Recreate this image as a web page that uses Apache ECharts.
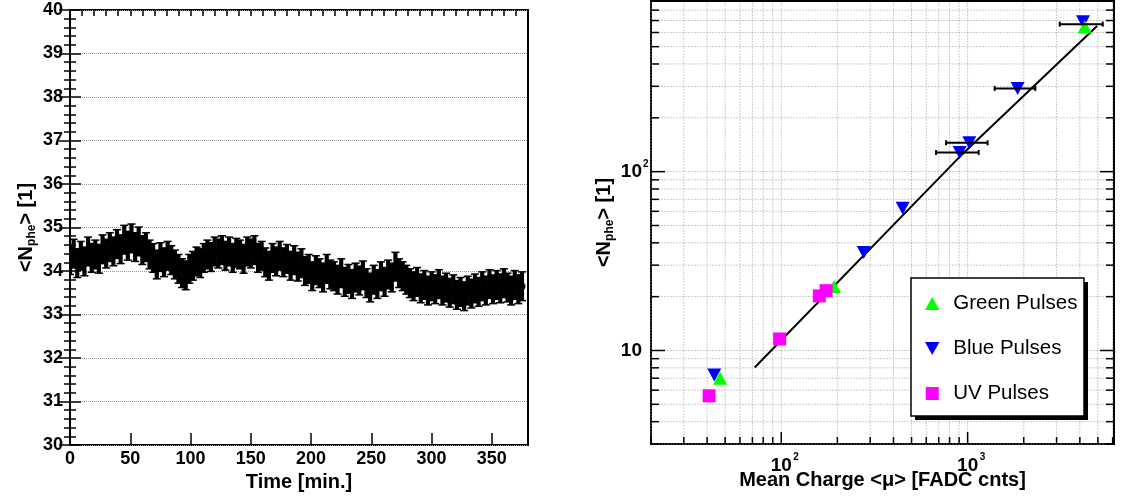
<!DOCTYPE html>
<html><head><meta charset="utf-8">
<script src="https://cdn.jsdelivr.net/npm/echarts@6/dist/echarts.min.js"></script>
<style>html,body{margin:0;padding:0;background:#fff}#c{width:1126px;height:498px}</style>
</head><body><div id="c"></div>
<script>
// ---------- left panel: <Nphe> vs time ----------
const TIME_MIN = [0,3,6,9,12,15,18,21,24,27,30,33,36,39,42,45,48,51,54,57,60,63,66,69,72,75,78,81,84,87,90,93,96,99,102,105,108,111,114,117,120,123,126,129,132,135,138,141,144,147,150,153,156,159,162,165,168,171,174,177,180,183,186,189,192,195,198,201,204,207,210,213,216,219,222,225,228,231,234,237,240,243,246,249,252,255,258,261,264,267,270,273,276,279,282,285,288,291,294,297,300,303,306,309,312,315,318,321,324,327,330,333,336,339,342,345,348,351,354,357,360,363,366,369,372,375];
const NPHE = [
 34.25,34.40,34.18,34.35,34.22,34.45,34.30,34.38,34.28,34.50,
 34.40,34.55,34.45,34.62,34.50,34.72,34.58,34.75,34.55,34.68,
 34.48,34.55,34.38,34.30,34.15,34.32,34.20,34.35,34.25,34.15,
 34.05,33.95,33.90,34.05,34.12,34.22,34.18,34.30,34.38,34.32,
 34.45,34.40,34.48,34.35,34.45,34.30,34.42,34.38,34.28,34.45,
 34.40,34.48,34.30,34.35,34.20,34.12,34.30,34.22,34.35,34.20,
 34.28,34.12,34.25,34.10,34.18,34.00,34.05,33.88,34.02,33.95,
 33.85,34.05,33.92,33.88,33.80,33.95,33.75,33.82,33.70,33.85,
 33.78,33.90,33.72,33.62,33.80,33.70,33.88,33.75,33.92,33.85,
 34.10,33.95,33.88,33.80,33.72,33.65,33.75,33.60,33.68,33.55,
 33.65,33.58,33.70,33.55,33.62,33.50,33.58,33.45,33.52,33.42,
 33.55,33.48,33.60,33.52,33.65,33.55,33.70,33.58,33.68,33.60,
 33.72,33.62,33.55,33.68,33.58,33.65];
const NPHE_ERR = 0.33;

// ---------- right panel: <Nphe> vs mean charge (log-log) ----------
const GREEN = [[47,7.0],[192,22.8],[4250,646]];
const BLUE  = [[43.7,7.3],[277,35.3],[448,62.5],[906,128],[1021,145],[1854,292],[4160,689]];
const UV    = [[41,5.58],[98,11.6],[160,20.2],[174,21.6]];
const FIT   = [[72,8.04],[906,121],[4950,652]];
const XERR  = [[3120,5310,668],[1396,2307,292],[766,1280,145],[677,1146,128]]; // [low, high, y]
const RX_MAJOR = [100,1000];
const RX_MINOR = [20,30,40,50,60,70,80,90,200,300,400,500,600,700,800,900,2000,3000,4000,5000,6000];
const RY_MAJOR = [10,100];
const RY_MINOR = [3,4,5,6,7,8,9,20,30,40,50,60,70,80,90,200,300,400,500,600,700,800];
const RX_LABELS = [['10','2'],['10','3']];
const RY_LABELS = [['10',''],['10','2']];

const FF = '"Liberation Sans", Arial, Helvetica, sans-serif';
const chart = echarts.init(document.getElementById('c'), null, {renderer:'canvas'});

const nameRich = {
  fontFamily: FF, fontWeight: 'bold', fontSize: 20, color: '#000', lineHeight: 24,
  rich: { sub: { fontFamily: FF, fontWeight: 'bold', fontSize: 12, color: '#000', lineHeight: 12, verticalAlign: 'bottom' } }
};
const lblStyle = { fontFamily: FF, fontWeight: 'bold', fontSize: 18, color: '#000' };

const option = {
  animation: false,
  backgroundColor: '#fff',
  grid: [
    { left: 70, top: 10, width: 458, height: 435, show: true, borderColor: '#000', borderWidth: 2, backgroundColor: 'transparent' },
    { left: 651, top: 1, width: 463, height: 443, show: true, borderColor: '#000', borderWidth: 2, backgroundColor: 'transparent' }
  ],
  graphic: [
    { type: 'rect', z: 20, shape: { x: 915, y: 282, width: 173, height: 138 }, style: { fill: '#000' }, silent: true },
    { type: 'rect', z: 21, shape: { x: 911, y: 278, width: 173, height: 138 }, style: { fill: '#fff', stroke: '#000', lineWidth: 1.5 }, silent: true }
  ],
  legend: {
    data: ['Green Pulses','Blue Pulses','UV Pulses'],
    orient: 'vertical', left: 925, top: 293, z: 30,
    itemWidth: 32, itemHeight: 13, itemGap: 24,
    padding: 0,
    selectedMode: false,
    textStyle: { fontFamily: FF, fontSize: 20.5, color: '#000' }
  },
  xAxis: [
    { gridIndex: 0, type: 'value', min: 0, max: 380, interval: 50,
      axisLine: {show:false}, splitLine: {show:false},
      axisTick: {inside:true, length:12, lineStyle:{color:'#000', width:1.5}},
      axisLabel: Object.assign({margin:5, showMaxLabel:false}, lblStyle),
      name: 'Time [min.]', nameLocation: 'middle', nameGap: 25,
      nameTextStyle: {fontFamily: FF, fontWeight:'bold', fontSize:20, color:'#000'} },
    { gridIndex: 0, type: 'value', min: 0, max: 380, interval: 10,
      axisLine: {show:false}, splitLine: {show:false}, axisLabel: {show:false},
      axisTick: {inside:true, length:6, lineStyle:{color:'#000', width:1.5}} },
    { gridIndex: 1, type: 'log', logBase: 10, min: 20, max: 6100,
      axisLine: {show:false}, splitLine: {show:false}, axisLabel: {show:false}, axisTick: {show:false},
      name: 'Mean Charge <μ> [FADC cnts]', nameLocation: 'middle', nameGap: 26,
      nameTextStyle: {fontFamily: FF, fontWeight:'bold', fontSize:20, color:'#000'} }
  ],
  yAxis: [
    { gridIndex: 0, type: 'value', min: 30, max: 40, interval: 1,
      axisLine: {show:false},
      splitLine: {show:true, lineStyle:{color:'#999', type:'dotted', width:1}},
      axisTick: {inside:true, length:11, lineStyle:{color:'#000', width:1.5}},
      minorTick: {show:true, splitNumber:5, length:6, lineStyle:{color:'#000', width:1.5}},
      axisLabel: Object.assign({margin:7}, lblStyle),
      name: '<N{sub|phe}> [1]', nameLocation: 'middle', nameRotate: 90, nameGap: 32,
      nameTextStyle: nameRich },
    { gridIndex: 0, type: 'value', min: 30, max: 40, interval: 1, position: 'right',
      axisLine: {show:false}, splitLine: {show:false}, axisLabel: {show:false},
      axisTick: {inside:true, length:11, lineStyle:{color:'#000', width:1.5}},
      minorTick: {show:true, splitNumber:5, length:6, lineStyle:{color:'#000', width:1.5}} },
    { gridIndex: 1, type: 'log', logBase: 10, min: 3, max: 900,
      axisLine: {show:false}, splitLine: {show:false}, axisLabel: {show:false}, axisTick: {show:false},
      name: '<N{sub|phe}> [1]', nameLocation: 'middle', nameRotate: 90, nameGap: 35,
      nameTextStyle: nameRich }
  ],
  series: [
    { type: 'custom', name: 'timeseries', xAxisIndex: 0, yAxisIndex: 0, z: 3, clip: true, silent: true,
      data: TIME_MIN.map((t, i) => [t, NPHE[i]]),
      encode: {x: 0, y: 1},
      renderItem: function (params, api) {
        const t = api.value(0), v = api.value(1);
        const p = api.coord([t, v]);
        const hi = api.coord([t, v + NPHE_ERR])[1];
        const lo = api.coord([t, v - NPHE_ERR])[1];
        const st = {stroke:'#000', lineWidth:1.5};
        return { type: 'group', children: [
          {type:'line', shape:{x1:p[0], y1:hi, x2:p[0], y2:lo}, style:{stroke:'#000', lineWidth:4.2}},
          {type:'line', shape:{x1:p[0]-4, y1:hi, x2:p[0]+4, y2:hi}, style:st},
          {type:'line', shape:{x1:p[0]-4, y1:lo, x2:p[0]+4, y2:lo}, style:st},
          {type:'circle', shape:{cx:p[0], cy:p[1], r:3.5}, style:{fill:'#000'}}
        ]};
      } },
    { type: 'custom', name: 'frame', xAxisIndex: 2, yAxisIndex: 2, z: 1, clip: false, silent: true,
      data: [[100, 10]], encode: {x: 0, y: 1},
      renderItem: function (params, api) {
        const cs = params.coordSys;
        const L = cs.x, T = cs.y, R = cs.x + cs.width, B = cs.y + cs.height;
        const ch = [];
        const gst = {stroke:'#999', lineWidth:1, lineDash:[1,2]};
        const tst = {stroke:'#000', lineWidth:1.5};
        RX_MAJOR.concat(RX_MINOR).forEach(v => {
          const x = api.coord([v, 10])[0];
          ch.push({type:'line', shape:{x1:x, y1:T+1.5, x2:x, y2:B-1.5}, style:gst});
        });
        RY_MAJOR.concat(RY_MINOR).forEach(v => {
          const y = api.coord([100, v])[1];
          ch.push({type:'line', shape:{x1:L+1.5, y1:y, x2:R-1.5, y2:y}, style:gst});
        });
        RX_MINOR.forEach(v => {
          const x = api.coord([v, 10])[0];
          ch.push({type:'line', shape:{x1:x, y1:B, x2:x, y2:B-7}, style:tst});
        });
        RX_MAJOR.forEach((v, i) => {
          const x = api.coord([v, 10])[0];
          ch.push({type:'line', shape:{x1:x, y1:B, x2:x, y2:B-12}, style:tst});
          ch.push({type:'text', style:{text:RX_LABELS[i][0], x:x, y:B+22, align:'center', verticalAlign:'middle',
            fill:'#000', font:'bold 19px ' + FF}});
          ch.push({type:'text', style:{text:RX_LABELS[i][1], x:x+12, y:B+13, align:'left', verticalAlign:'middle',
            fill:'#000', font:'bold 10px ' + FF}});
        });
        RY_MINOR.forEach(v => {
          const y = api.coord([100, v])[1];
          ch.push({type:'line', shape:{x1:L, y1:y, x2:L+8, y2:y}, style:tst});
          ch.push({type:'line', shape:{x1:R, y1:y, x2:R-8, y2:y}, style:tst});
        });
        RY_MAJOR.forEach((v, i) => {
          const y = api.coord([100, v])[1];
          ch.push({type:'line', shape:{x1:L, y1:y, x2:L+14, y2:y}, style:tst});
          ch.push({type:'line', shape:{x1:R, y1:y, x2:R-14, y2:y}, style:tst});
          ch.push({type:'text', style:{text:RY_LABELS[i][0], x:L-9, y:y, align:'right', verticalAlign:'middle',
            fill:'#000', font:'bold 19px ' + FF}});
          if (RY_LABELS[i][1]) ch.push({type:'text', style:{text:RY_LABELS[i][1], x:L-8, y:y-7, align:'left', verticalAlign:'middle',
            fill:'#000', font:'bold 10px ' + FF}});
        });
        return {type:'group', children: ch};
      } },
    { type: 'line', name: 'fit', xAxisIndex: 2, yAxisIndex: 2, z: 2, data: FIT,
      showSymbol: false, symbol: 'none', lineStyle: {color:'#000', width:2}, silent: true },
    { type: 'scatter', name: 'Blue Pulses', xAxisIndex: 2, yAxisIndex: 2, z: 3, data: BLUE,
      symbol: 'path://M0,0L20,0L10,18Z', symbolSize: [14, 13], itemStyle: {color:'#0000ff', opacity:1} },
    { type: 'scatter', name: 'Green Pulses', xAxisIndex: 2, yAxisIndex: 2, z: 4, data: GREEN,
      symbol: 'path://M10,0L20,18L0,18Z', symbolSize: [14, 13], itemStyle: {color:'#00ff00', opacity:1} },
    { type: 'scatter', name: 'UV Pulses', xAxisIndex: 2, yAxisIndex: 2, z: 5, data: UV,
      symbol: 'path://M0,0L10,0L10,10L0,10Z', symbolSize: 13, itemStyle: {color:'#ff00ff', opacity:1} },
    { type: 'custom', name: 'xerr', xAxisIndex: 2, yAxisIndex: 2, z: 6, silent: true,
      data: XERR, encode: {x: [0, 1], y: 2},
      renderItem: function (params, api) {
        const a = api.coord([api.value(0), api.value(2)]);
        const b = api.coord([api.value(1), api.value(2)]);
        const st = {stroke:'#000', lineWidth:2};
        return {type:'group', children:[
          {type:'line', shape:{x1:a[0], y1:a[1], x2:b[0], y2:b[1]}, style:st},
          {type:'line', shape:{x1:a[0], y1:a[1]-2.5, x2:a[0], y2:a[1]+2.5}, style:st},
          {type:'line', shape:{x1:b[0], y1:b[1]-2.5, x2:b[0], y2:b[1]+2.5}, style:st}
        ]};
      } }
  ]
};
chart.setOption(option);
</script>
</body></html>
